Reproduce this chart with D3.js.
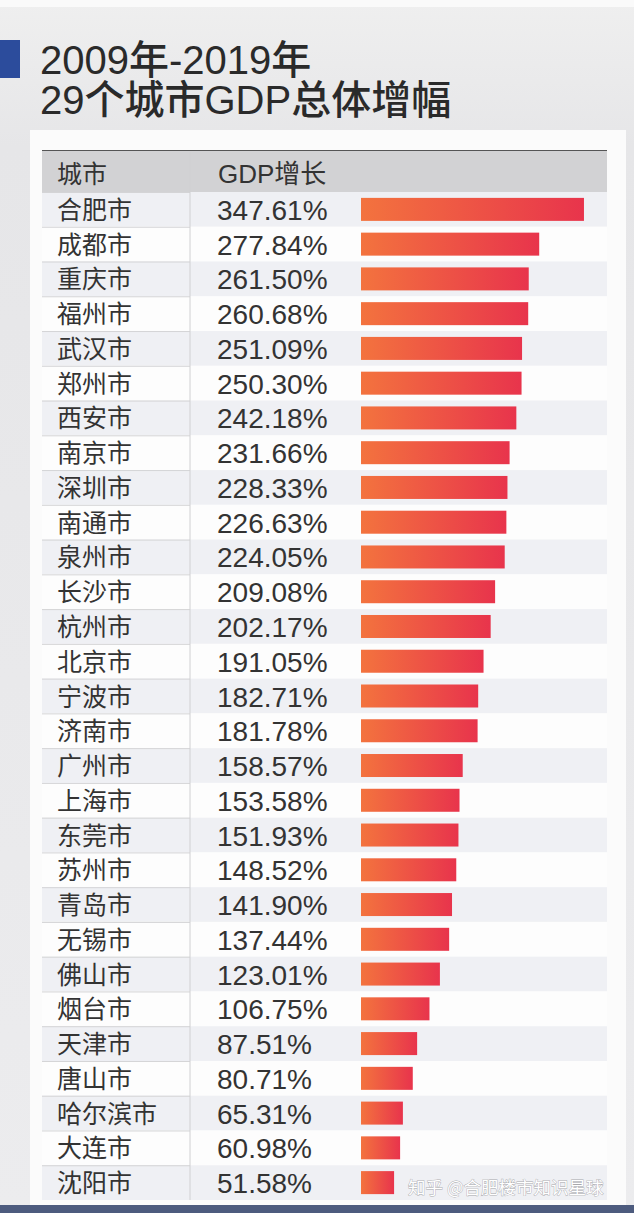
<!DOCTYPE html>
<html><head><meta charset="utf-8">
<script src="https://cdn.jsdelivr.net/npm/d3@7"></script>
<style>
html,body{margin:0;padding:0;background:#e9e9eb;}
svg{display:block;}
</style></head>
<body>
<script>
const titleLines = ["2009年-2019年", "29个城市GDP总体增幅"];
const headers = ["城市", "GDP增长"];
const cities = ["合肥市","成都市","重庆市","福州市","武汉市","郑州市","西安市","南京市","深圳市","南通市","泉州市","长沙市","杭州市","北京市","宁波市","济南市","广州市","上海市","东莞市","苏州市","青岛市","无锡市","佛山市","烟台市","天津市","唐山市","哈尔滨市","大连市","沈阳市"];
const growth = [347.61,277.84,261.50,260.68,251.09,250.30,242.18,231.66,228.33,226.63,224.05,209.08,202.17,191.05,182.71,181.78,158.57,153.58,151.93,148.52,141.90,137.44,123.01,106.75,87.51,80.71,65.31,60.98,51.58];
const watermark = "知乎 @合肥楼市知识星球";

const W = 634, H = 1213;
const svg = d3.select("body").append("svg").attr("width", W).attr("height", H);
const defs = svg.append("defs");

const bgGrad = defs.append("linearGradient").attr("id","bg").attr("x1",0).attr("y1",0).attr("x2",0).attr("y2",1);
bgGrad.append("stop").attr("offset",0).attr("stop-color","#efefef");
bgGrad.append("stop").attr("offset",0.12).attr("stop-color","#e6e6e8");
bgGrad.append("stop").attr("offset",1).attr("stop-color","#ececee");
svg.append("rect").attr("width",W).attr("height",H).attr("fill","url(#bg)");
svg.append("rect").attr("x",0).attr("y",0).attr("width",W).attr("height",7).attr("fill","#fafafa");

const barGrad = defs.append("linearGradient").attr("id","bar").attr("x1",0).attr("y1",0).attr("x2",1).attr("y2",0);
barGrad.append("stop").attr("offset",0).attr("stop-color","#f3733e");
barGrad.append("stop").attr("offset",1).attr("stop-color","#e8344c");

// Blue marker
svg.append("rect").attr("x",0).attr("y",40).attr("width",20).attr("height",38).attr("fill","#2c4c9c");

// Title
const fontCN = "'Noto Sans CJK SC','Noto Sans',sans-serif";
const fontNum = "'Liberation Sans','Noto Sans CJK SC',sans-serif";
svg.selectAll("text.title").data(titleLines).join("text").attr("class","title")
  .attr("x",40).attr("y",(d,i)=>74+i*40)
  .attr("font-family","'Liberation Sans','Noto Sans CJK SC',sans-serif").attr("font-weight",500)
  .attr("font-size",40).attr("fill","#2a2a2a").text(d=>d);

// Card
svg.append("rect").attr("x",30).attr("y",130).attr("width",596).attr("height",1076).attr("fill","#fbfbfb");

const tableX0 = 42, tableX1 = 607, divX = 190;
const headerTop = 150, headerH = 42;
const rowTop = headerTop + headerH;
const y = d3.scaleBand().domain(cities).range([rowTop, 1200]).paddingInner(0).paddingOuter(0);
const x = d3.scaleLinear().domain([0, 350]).range([0, 224.5]);
const barX = 361;

// header
svg.append("rect").attr("x",tableX0).attr("y",headerTop).attr("width",tableX1-tableX0).attr("height",headerH).attr("fill","#d2d2d4");
svg.append("line").attr("x1",tableX0).attr("x2",tableX1).attr("y1",headerTop+0.5).attr("y2",headerTop+0.5).attr("stroke","#555").attr("stroke-width",1.2);

// rows
const rows = svg.append("g").selectAll("g").data(cities).join("g");
rows.append("rect").attr("x",tableX0).attr("y",d=>y(d)).attr("width",tableX1-tableX0).attr("height",y.bandwidth())
  .attr("fill",(d,i)=> i%2===0 ? "#eff0f4" : "#fdfdfd");
rows.append("line").attr("x1",tableX0).attr("x2",divX).attr("y1",d=>y(d)+0.5).attr("y2",d=>y(d)+0.5)
  .attr("stroke","#d4d4d6").attr("stroke-width",1);

// divider
svg.append("line").attr("x1",divX).attr("x2",divX).attr("y1",headerTop+2).attr("y2",1200).attr("stroke","#d0d0d2").attr("stroke-width",1);

// header text
svg.append("text").attr("x",57).attr("y",headerTop+33).attr("font-family",fontCN).attr("font-size",25).attr("fill","#333").text(headers[0]);
svg.append("text").attr("x",218).attr("y",headerTop+33).attr("font-family",fontNum).attr("font-size",26).attr("fill","#333").text(headers[1]);

// city text
rows.append("text").attr("x",57).attr("y",d=>y(d)+y.bandwidth()/2+9.5)
  .attr("font-family",fontCN).attr("font-size",25).attr("fill","#333").text(d=>d);
// values
rows.append("text").attr("x",217).attr("y",d=>y(d)+y.bandwidth()/2+10.5)
  .attr("font-family",fontNum).attr("font-size",28).attr("fill","#333")
  .text((d,i)=>growth[i].toFixed(2)+"%");
// bars
rows.append("rect").attr("x",barX).attr("y",d=>y(d)+y.bandwidth()/2-11.5).attr("height",23)
  .attr("width",(d,i)=>x(growth[i])).attr("fill","url(#bar)");

// watermark
svg.append("text").attr("x",408).attr("y",1194).attr("font-family",fontCN).attr("font-size",17.5)
  .attr("fill","#ffffff").attr("stroke","#a8a8ac").attr("stroke-width",0.8).attr("paint-order","stroke").text(watermark);

// bottom strip
svg.append("rect").attr("x",0).attr("y",1205).attr("width",W).attr("height",8).attr("fill","#4d5b7e");
</script>
</body></html>
